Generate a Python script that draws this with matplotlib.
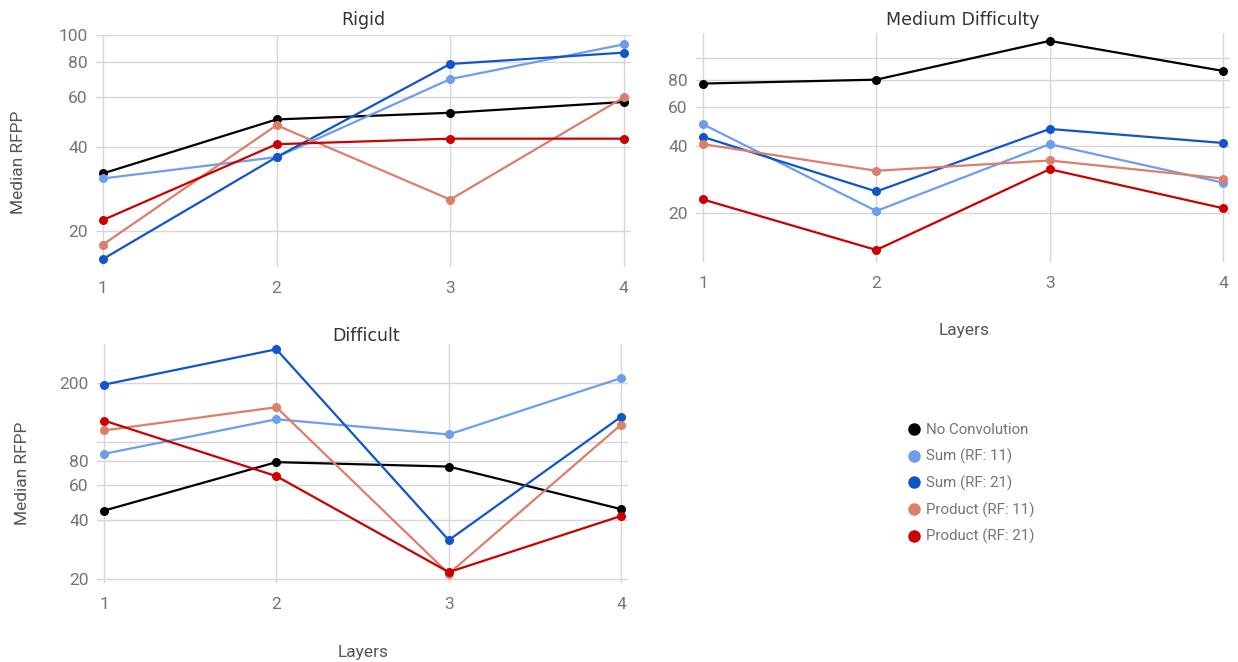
import matplotlib
matplotlib.use('Agg')
import matplotlib.pyplot as plt
from matplotlib.lines import Line2D
from matplotlib.ticker import NullFormatter, NullLocator

layers = [1, 2, 3, 4]
series_names = ['No Convolution', 'Sum (RF: 11)', 'Sum (RF: 21)',
                'Product (RF: 11)', 'Product (RF: 21)']
series_colors = ['#000000', '#6d9eeb', '#1155cc', '#dd7e6b', '#cc0000']

# median RFPP per layer, one list per series
rigid = [
    [32.1, 50.0, 52.8, 57.7],
    [30.8, 36.7, 69.6, 92.6],
    [15.9, 36.7, 78.8, 86.5],
    [17.9, 47.7, 25.9, 59.9],
    [21.9, 40.8, 42.7, 42.7],
]
medium = [
    [76.8, 80.0, 119.7, 87.6],
    [50.3, 20.4, 40.9, 27.4],
    [44.1, 25.0, 47.9, 41.4],
    [40.9, 31.0, 34.5, 28.6],
    [23.0, 13.6, 31.5, 21.0],
]
difficult = [
    [44.6, 79.0, 75.0, 45.4],
    [87.1, 131.0, 109.5, 213.0],
    [197.0, 299.0, 31.5, 135.0],
    [114.8, 151.0, 21.2, 123.0],
    [129.0, 67.0, 21.6, 41.9],
]

rigid_ticks = [20, 40, 60, 80, 100]
rigid_labels = ['20', '40', '60', '80', '100']
medium_ticks = [20, 40, 60, 80, 100]
medium_labels = ['20', '40', '60', '80', '']
difficult_ticks = [20, 40, 60, 80, 100, 200]
difficult_labels = ['20', '40', '60', '80', '', '200']

TICK = '#757575'
GRID = '#d6d6d6'

fig = plt.figure(figsize=(12.38, 6.62), dpi=100)


def panel(rect, data, ylim, ticks, labels):
    ax = fig.add_axes(rect)
    for vals, c in zip(data, series_colors):
        ax.plot(layers, vals, color=c, lw=1.6, marker='o', ms=6.5,
                markeredgewidth=0, solid_capstyle='round', zorder=3)
    ax.set_yscale('log')
    ax.set_ylim(*ylim)
    ax.set_xlim(0.96, 4.04)
    ax.set_xticks(layers)
    ax.set_xticklabels([str(l) for l in layers])
    ax.yaxis.set_minor_locator(NullLocator())
    ax.yaxis.set_minor_formatter(NullFormatter())
    ax.set_yticks(ticks)
    ax.set_yticklabels(labels)
    ax.grid(True, color=GRID, lw=1, zorder=0)
    for s in ax.spines.values():
        s.set_visible(False)
    ax.tick_params(length=0, colors=TICK, labelsize=12.5)
    ax.tick_params(axis='x', pad=10)
    ax.tick_params(axis='y', pad=6)
    for t in ax.get_xticklabels() + ax.get_yticklabels():
        t.set_fontfamily('Roboto')
    return ax


panel([0.0775, 0.5967, 0.432, 0.3505], rigid, (14.9, 100), rigid_ticks, rigid_labels)
panel([0.5622, 0.6042, 0.4313, 0.346], medium, (12.0, 130), medium_ticks, medium_labels)
panel([0.0784, 0.1193, 0.4289, 0.361], difficult, (19.0, 318), difficult_ticks, difficult_labels)

title_kw = dict(fontsize=12.5, color='#333333', family='DejaVu Sans',
                ha='center', va='center')
fig.text(363 / 1238, 1 - 20 / 662, 'Rigid', **title_kw)
fig.text(963 / 1238, 1 - 20 / 662, 'Medium Difficulty', **title_kw)
fig.text(366 / 1238, 1 - 336 / 662, 'Difficult', **title_kw)

lab_kw = dict(fontsize=12.5, color='#555555', family='Roboto',
              ha='center', va='center')
fig.text(19 / 1238, 1 - 162 / 662, 'Median RFPP', rotation=90, **lab_kw)
fig.text(23 / 1238, 1 - 473 / 662, 'Median RFPP', rotation=90, **lab_kw)
fig.text(964 / 1238, 1 - 330 / 662, 'Layers', **lab_kw)
fig.text(363 / 1238, 1 - 652 / 662, 'Layers', **lab_kw)

handles = [Line2D([], [], ls='none', marker='o', ms=9, markeredgewidth=0, color=c)
           for c in series_colors]
leg = fig.legend(handles, series_names, loc='upper left',
                 bbox_to_anchor=(894 / 1238, 1 - 410 / 662), frameon=False,
                 handlelength=0.8, handletextpad=0.45, labelspacing=0.76,
                 prop={'family': 'Roboto', 'size': 10.8})
for t in leg.get_texts():
    t.set_color(TICK)

fig.savefig('out.png', dpi=100)
